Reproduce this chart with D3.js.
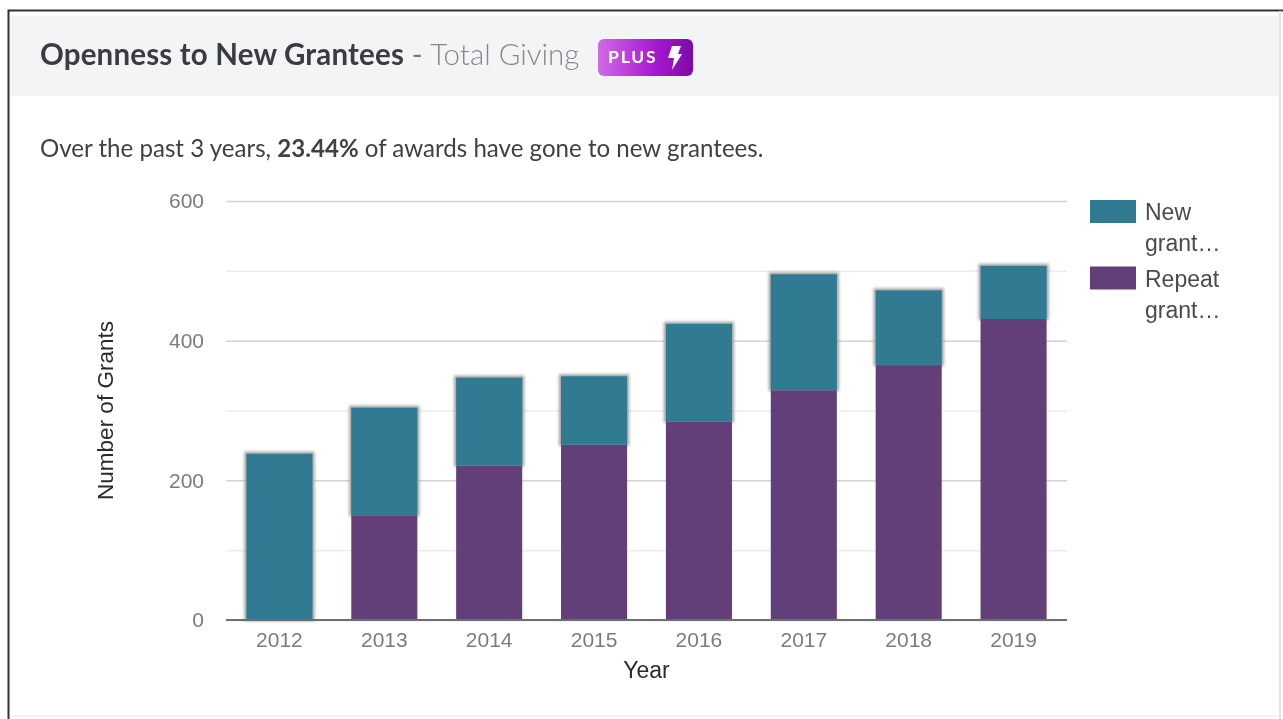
<!DOCTYPE html>
<html>
<head>
<meta charset="utf-8">
<script src="https://cdn.jsdelivr.net/npm/d3@7/dist/d3.min.js"></script>
<style>
    html, body { margin: 0; padding: 0; background: #fff; overflow: hidden; }
    svg { display: block; filter: blur(0.7px); }
    .axis text { font-family: "Liberation Sans", sans-serif; }
    .axis .domain { display: none; }
</style>
</head>
<body>
<div id="graph"></div>
<script>
var years = ["2012", "2013", "2014", "2015", "2016", "2017", "2018", "2019"];
var repeatGrants = [0, 150, 221, 251, 284, 329, 365, 431];
var newGrants = [238, 154, 126, 98, 140, 166, 107, 76];
var majorTicks = [0, 200, 400, 600];
var minorTicks = [100, 300, 500];
var seriesNames = [["New", "grant\u2026"], ["Repeat", "grant\u2026"]];
var seriesColors = ["#307b91", "#633f79"];

var fullWidth = 1283, fullHeight = 719;
var margin = {top: 201, right: 216, bottom: 99, left: 226},
    width = fullWidth - margin.left - margin.right,
    height = fullHeight - margin.top - margin.bottom;

var root = d3.select("#graph")
    .append("svg")
    .attr("width", fullWidth)
    .attr("height", fullHeight);

var defs = root.append("defs");
defs.append("filter")
    .attr("id", "halo")
    .attr("x", "-10%").attr("y", "-10%")
    .attr("width", "120%").attr("height", "120%")
    .append("feGaussianBlur")
    .attr("stdDeviation", 1.5);
var badgeFill = defs.append("linearGradient").attr("id", "badge");
badgeFill.append("stop").attr("offset", "0%").attr("stop-color", "#cf6be6");
badgeFill.append("stop").attr("offset", "60%").attr("stop-color", "#a818d2");
badgeFill.append("stop").attr("offset", "100%").attr("stop-color", "#7c0aa6");

// Card frame and header
root.append("path")
    .attr("d", "M8.5,719V10.5H1283")
    .attr("fill", "none")
    .attr("stroke", "#333")
    .attr("stroke-width", 2);
root.append("line")
    .attr("x1", 1280).attr("x2", 1280)
    .attr("y1", 11).attr("y2", 719)
    .attr("stroke", "#e4e4e6").attr("stroke-width", 2);
root.append("line")
    .attr("x1", 10).attr("x2", 1279)
    .attr("y1", 716).attr("y2", 716)
    .attr("stroke", "#e8e8ea").attr("stroke-width", 1);
root.append("rect")
    .attr("x", 10).attr("y", 16)
    .attr("width", 1269).attr("height", 80)
    .attr("fill", "#f3f4f6");

var title = root.append("text")
    .attr("x", 40).attr("y", 65)
    .attr("font-family", "Lato, sans-serif")
    .attr("font-size", "29.5px");
title.append("tspan").attr("font-weight", 700).attr("letter-spacing", "0.17px").attr("fill", "#3a3d40").text("Openness to New Grantees");
title.append("tspan").attr("fill", "#77797c").text(" - ");
title.append("tspan").attr("fill", "#85878a").attr("font-weight", 300).text("Total Giving");

root.append("rect")
    .attr("x", 598).attr("y", 39)
    .attr("width", 95).attr("height", 37)
    .attr("rx", 6)
    .attr("fill", "url(#badge)");
root.append("text")
    .attr("x", 608).attr("y", 63)
    .attr("font-family", "Lato, sans-serif")
    .attr("font-size", "17.5px")
    .attr("font-weight", 700)
    .attr("letter-spacing", "1.8px")
    .attr("fill", "#fff")
    .text("PLUS");
root.append("path")
    .attr("d", "M672,46H681L678,54H682L672,70L674,58H668Z")
    .attr("fill", "#fff");

var intro = root.append("text")
    .attr("x", 40).attr("y", 157)
    .attr("font-family", "Lato, sans-serif")
    .attr("font-size", "24.1px")
    .attr("fill", "#3f4144");
intro.append("tspan").text("Over the past 3 years, ");
intro.append("tspan").attr("font-weight", 700).text("23.44%");
intro.append("tspan").text(" of awards have gone to new grantees.");

// Chart
var svg = root.append("g")
    .attr("transform", "translate(" + margin.left + "," + margin.top + ")");

var scX = d3.scaleBand().domain(years).range([1, width - 1]).paddingInner(0.37).paddingOuter(0.185);
var scY = d3.scaleLinear().domain([0, 600]).range([height, 0]);

svg.append("g")
    .attr("class", "axis")
    .call(d3.axisLeft(scY).tickValues(minorTicks).tickSize(-width).tickFormat(""))
    .selectAll("line").attr("stroke", "#ececee").attr("stroke-width", 1.5);

var yAxis = svg.append("g")
    .attr("class", "axis")
    .call(d3.axisLeft(scY).tickValues(majorTicks).tickSize(-width).tickPadding(22));
yAxis.selectAll("line").attr("stroke", "#d2d2d4").attr("stroke-width", 1.5);
yAxis.selectAll("text").attr("font-size", "21px").attr("fill", "#7c7c7c");

var stack = d3.stack().keys([0, 1]).value(function (d, key) { return d[key]; });
var layers = stack(years.map(function (y, i) { return [repeatGrants[i], newGrants[i]]; }));

// New grants sit on top of repeat grants and carry a soft grey edge
svg.append("g")
    .selectAll("rect")
    .data(layers[1])
    .enter()
    .append("rect")
    .attr("x", function (d, i) { return scX(years[i]) - 2; })
    .attr("y", function (d) { return scY(d[1]) - 2; })
    .attr("width", scX.bandwidth() + 4)
    .attr("height", function (d) { return scY(d[0]) - scY(d[1]) + 3; })
    .attr("fill", "#a0a0a0")
    .attr("filter", "url(#halo)");

svg.append("g")
    .selectAll("rect")
    .data(layers[0])
    .enter()
    .append("rect")
    .attr("x", function (d, i) { return scX(years[i]); })
    .attr("y", function (d) { return scY(d[1]); })
    .attr("width", scX.bandwidth())
    .attr("height", function (d) { return scY(d[0]) - scY(d[1]); })
    .attr("fill", seriesColors[1]);

svg.append("g")
    .selectAll("rect")
    .data(layers[1])
    .enter()
    .append("rect")
    .attr("x", function (d, i) { return scX(years[i]); })
    .attr("y", function (d) { return scY(d[1]); })
    .attr("width", scX.bandwidth())
    .attr("height", function (d) { return scY(d[0]) - scY(d[1]); })
    .attr("fill", seriesColors[0]);

var xAxis = svg.append("g")
    .attr("class", "axis")
    .attr("transform", "translate(0," + height + ")")
    .call(d3.axisBottom(scX).tickSize(0).tickPadding(12));
xAxis.selectAll("text").attr("font-size", "21px").attr("fill", "#7c7c7c");

svg.append("line")
    .attr("x1", 0).attr("x2", width)
    .attr("y1", height).attr("y2", height)
    .attr("stroke", "#6e6e6e")
    .attr("stroke-width", 2);

// Labels
svg.append("text")
    .attr("x", width / 2)
    .attr("y", height + 58)
    .attr("font-family", "Liberation Sans, sans-serif")
    .attr("font-size", "23px")
    .attr("text-anchor", "middle")
    .attr("fill", "#2b2b2b")
    .text("Year");

svg.append("text")
    .attr("transform", "rotate(-90)")
    .attr("x", 0 - (height / 2))
    .attr("y", -113)
    .attr("font-family", "Liberation Sans, sans-serif")
    .attr("font-size", "22.5px")
    .attr("text-anchor", "middle")
    .attr("fill", "#2b2b2b")
    .text("Number of Grants");

// Legend
var legend = root.append("g")
    .selectAll("g")
    .data(seriesNames)
    .enter()
    .append("g")
    .attr("transform", function (d, i) { return "translate(1090," + (200 + i * 66.5) + ")"; });

legend.append("rect")
    .attr("width", 46)
    .attr("height", 23)
    .attr("fill", function (d, i) { return seriesColors[i]; });

legend.each(function (d) {
    d3.select(this).selectAll("text")
        .data(d)
        .enter()
        .append("text")
        .attr("x", 55)
        .attr("y", function (line, j) { return 20 + j * 31; })
        .attr("font-family", "Liberation Sans, sans-serif")
        .attr("font-size", "23px")
        .attr("fill", "#4a4a4a")
        .text(function (line) { return line; });
});
</script>
</body>
</html>
